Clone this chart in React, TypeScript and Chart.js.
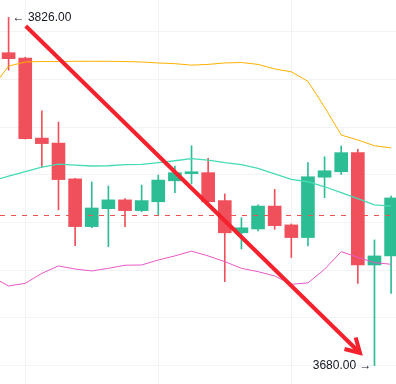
import React, { useEffect, useRef } from "react";
import { Chart, registerables } from "chart.js";

Chart.register(...registerables);

// ---- data ----
const candleIndex = [0, 1, 2, 3, 4, 5, 6, 7, 8, 9, 10, 11, 12, 13, 14, 15, 16, 17, 18, 19, 20, 21, 22, 23];
const opens = [3811.2, 3809.0, 3775.4, 3773.3, 3758.3, 3738.3, 3745.8, 3749.5, 3745.0, 3748.7, 3757.5, 3760.5, 3760.9, 3749.2, 3735.7, 3737.3, 3746.9, 3739.0, 3733.7, 3759.0, 3761.3, 3769.3, 3722.2, 3726.0];
const highs = [3826.0, 3809.3, 3786.8, 3782.1, 3758.5, 3757.0, 3755.3, 3750.0, 3755.7, 3759.9, 3763.7, 3772.2, 3766.9, 3752.0, 3742.0, 3747.4, 3753.9, 3739.4, 3765.1, 3767.6, 3772.1, 3770.7, 3732.7, 3751.1];
const lows = [3803.9, 3775.0, 3763.2, 3745.3, 3730.3, 3737.8, 3729.9, 3738.3, 3744.6, 3743.2, 3752.5, 3756.2, 3748.6, 3715.2, 3728.9, 3736.5, 3737.2, 3725.3, 3730.2, 3750.4, 3760.2, 3714.5, 3680.0, 3710.3];
const closes = [3808.7, 3775.2, 3773.1, 3758.0, 3738.3, 3746.1, 3749.5, 3745.0, 3749.2, 3757.8, 3760.9, 3761.3, 3748.7, 3735.7, 3737.8, 3746.9, 3738.7, 3733.7, 3759.2, 3761.7, 3769.3, 3722.2, 3726.0, 3750.3];

const bandIndex = [-1, 0, 1, 2, 3, 4, 5, 6, 7, 8, 9, 10, 11, 12, 13, 14, 15, 16, 17, 18, 19, 20, 21, 22, 23];
const upperBand = [3796.4, 3805.6, 3807.3, 3807.5, 3807.5, 3807.6, 3807.6, 3807.6, 3807.5, 3807.3, 3806.9, 3806.6, 3806.0, 3806.3, 3806.9, 3807.1, 3806.3, 3804.4, 3803.2, 3799.2, 3788.4, 3776.7, 3774.6, 3772.2, 3771.3];
const middleBand = [3757.4, 3759.5, 3761.3, 3763.2, 3764.5, 3764.1, 3763.7, 3763.8, 3764.3, 3764.4, 3765.1, 3765.9, 3766.8, 3766.2, 3765.1, 3764.3, 3762.7, 3760.4, 3758.1, 3757.1, 3755.0, 3752.5, 3750.0, 3747.4, 3746.9];
const lowerBand = [3717.2, 3713.4, 3714.5, 3718.7, 3721.8, 3720.5, 3719.7, 3720.8, 3722.1, 3722.2, 3724.3, 3726.0, 3728.0, 3726.0, 3723.6, 3720.8, 3719.4, 3717.6, 3714.1, 3714.7, 3720.4, 3727.8, 3725.4, 3723.2, 3722.5];

const priceLine = 3743.0;
const yGridTicks = [3680, 3700, 3720, 3740, 3760, 3780, 3800, 3820];
const xGridTicks = [5, 13, 21];
const trendX = [1.03, 21.13];
const trendY = [3822.4, 3685.3];

const UP = "#2dbd95";
const DOWN = "#f0505b";

const overlayPlugin = {
  id: "overlay",
  afterDatasetsDraw(chart: any) {
    const { ctx, scales, chartArea } = chart;
    const xs = scales.x;
    const ys = scales.y;
    ctx.save();
    // dashed price line
    const py = Math.round(ys.getPixelForValue(priceLine)) + 0.5;
    ctx.strokeStyle = "#ef5350";
    ctx.lineWidth = 1;
    ctx.setLineDash([5, 6]);
    ctx.beginPath();
    ctx.moveTo(chartArea.left, py);
    ctx.lineTo(chartArea.right, py);
    ctx.stroke();
    ctx.setLineDash([]);

    // high / low labels
    let hi = 0;
    let lo = 0;
    highs.forEach((v, i) => { if (v > highs[hi]) hi = i; });
    lows.forEach((v, i) => { if (v < lows[lo]) lo = i; });
    ctx.font = "12px 'Liberation Sans', Arial, sans-serif";
    ctx.fillStyle = "#131722";
    ctx.textBaseline = "middle";
    ctx.textAlign = "left";
    ctx.fillText("\u2190 " + highs[hi].toFixed(2), xs.getPixelForValue(candleIndex[hi]) + 4, ys.getPixelForValue(highs[hi]));
    ctx.textAlign = "right";
    ctx.fillText(lows[lo].toFixed(2) + " \u2192", xs.getPixelForValue(candleIndex[lo]) - 3, ys.getPixelForValue(lows[lo]));

    // trend arrow
    const x1 = xs.getPixelForValue(trendX[0]);
    const y1 = ys.getPixelForValue(trendY[0]);
    const x2 = xs.getPixelForValue(trendX[1]);
    const y2 = ys.getPixelForValue(trendY[1]);
    const ang = Math.atan2(y2 - y1, x2 - x1);
    const head = 16;
    const spread = Math.PI / 6;
    ctx.strokeStyle = "#f5222d";
    ctx.lineWidth = 4;
    ctx.lineCap = "butt";
    ctx.lineJoin = "miter";
    ctx.beginPath();
    ctx.moveTo(x1, y1);
    ctx.lineTo(x2, y2);
    ctx.stroke();
    ctx.beginPath();
    ctx.moveTo(x2 - head * Math.cos(ang - spread), y2 - head * Math.sin(ang - spread));
    ctx.lineTo(x2, y2);
    ctx.lineTo(x2 - head * Math.cos(ang + spread), y2 - head * Math.sin(ang + spread));
    ctx.stroke();
    ctx.restore();
  },
};

export default function App() {
  const ref = useRef<HTMLCanvasElement | null>(null);
  useEffect(() => {
    if (!ref.current) return;
    const colors = candleIndex.map((_, i) => (closes[i] >= opens[i] ? UP : DOWN));
    const bodies = candleIndex.map((x, i) => {
      let a = opens[i];
      let b = closes[i];
      if (Math.abs(a - b) < 0.4) b = a + 0.4;
      return { x, y: [Math.min(a, b), Math.max(a, b)] };
    });
    const wicks = candleIndex.map((x, i) => ({ x, y: [lows[i], highs[i]] }));
    const band = (arr: number[]) => bandIndex.map((x, i) => ({ x, y: arr[i] }));
    const chart = new Chart(ref.current, {
      type: "bar",
      data: {
        datasets: [
          { type: "line", data: band(upperBand), borderColor: "#ffb000", borderWidth: 1, pointRadius: 0, tension: 0, order: 0 } as any,
          { type: "line", data: band(middleBand), borderColor: "#45dbb5", borderWidth: 1.3, pointRadius: 0, tension: 0, order: 0 } as any,
          { type: "line", data: band(lowerBand), borderColor: "#e957c8", borderWidth: 1, pointRadius: 0, tension: 0, order: 0 } as any,
          { type: "bar", data: bodies, backgroundColor: colors, borderWidth: 0, barThickness: 13, grouped: false, order: 1 } as any,
          { type: "bar", data: wicks, backgroundColor: colors, borderWidth: 0, barThickness: 1, grouped: false, order: 2 } as any,
        ],
      },
      options: {
        responsive: false,
        animation: false,
        layout: { padding: 0 },
        plugins: { legend: { display: false }, tooltip: { enabled: false } },
        scales: {
          x: {
            type: "linear",
            min: -0.517,
            max: 23.295,
            offset: false,
            afterBuildTicks: (s: any) => { s.ticks = xGridTicks.map((v) => ({ value: v })); },
            ticks: { display: false },
            grid: { color: "#f2f3f6", drawTicks: false },
            border: { display: false },
          },
          y: {
            type: "linear",
            min: 3672.3,
            max: 3833.3,
            afterBuildTicks: (s: any) => { s.ticks = yGridTicks.map((v) => ({ value: v })); },
            ticks: { display: false },
            grid: { color: "#f2f3f6", drawTicks: false },
            border: { display: false },
          },
        },
      } as any,
      plugins: [overlayPlugin],
    });
    return () => chart.destroy();
  }, []);
  return (
    <div style={{ position: "fixed", left: 0, top: 0, width: 396, height: 384, background: "#fff" }}>
      <canvas ref={ref} width={396} height={384} style={{ display: "block" }} />
    </div>
  );
}
